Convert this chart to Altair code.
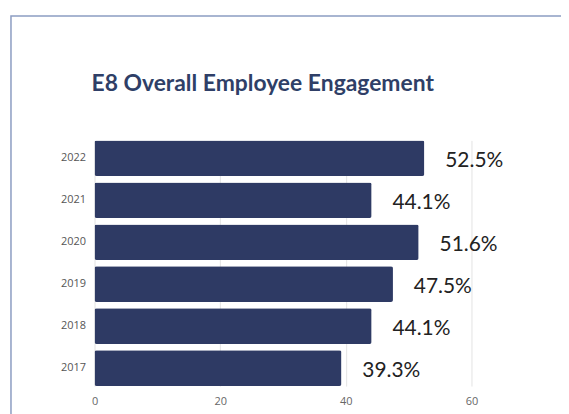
import altair as alt
import pandas as pd

years = ["2022", "2021", "2020", "2019", "2018", "2017"]
values = [52.5, 44.1, 51.6, 47.5, 44.1, 39.3]
labels = ["52.5%", "44.1%", "51.6%", "47.5%", "44.1%", "39.3%"]
title_text = "E8 Overall Employee Engagement"

df = pd.DataFrame({"year": years, "value": values, "label": labels})

y_enc = alt.Y("year:N", sort=years, title=None,
              scale=alt.Scale(paddingInner=0.15, paddingOuter=0),
              axis=alt.Axis(ticks=False, domain=False, labelFontSize=11,
                            labelColor="#555555", labelFont="Open Sans",
                            labelPadding=9))
x_enc = alt.X("value:Q", title=None,
              scale=alt.Scale(domain=[0, 60], nice=False),
              axis=alt.Axis(values=[0, 20, 40, 60], ticks=False, domain=False,
                            labelFontSize=11, labelColor="#666666",
                            labelFont="Open Sans", labelPadding=10,
                            labelFlush=False,
                            grid=True, gridColor="#e3e3e3"))

bars = alt.Chart(df).mark_bar(color="#2e3a64", cornerRadius=2).encode(
    x=x_enc, y=y_enc)

text = alt.Chart(df).mark_text(align="left", baseline="middle", dx=21, dy=3,
                               fontSize=21, font="Lato", color="#222222").encode(
    x="value:Q", y=alt.Y("year:N", sort=years), text="label:N")

border = alt.Chart(alt.Data(values=[{"a": 1}])).mark_rect(
    fill=None, stroke="#8c9dc2", strokeWidth=1.5, clip=False).encode(
    x=alt.value(-84), y=alt.value(-125), x2=alt.value(600), y2=alt.value(500))

title = alt.Chart(alt.Data(values=[{"t": title_text}])).mark_text(
    align="left", baseline="middle", font="Lato", fontSize=23,
    fontWeight="bold", color="#2f3f67").encode(
    x=alt.value(-3), y=alt.value(-57), text="t:N")

chart = alt.layer(border, title, bars, text).properties(
    width=379, height=247,
    autosize=alt.AutoSizeParams(type="none"),
    padding={"left": 87, "top": 132, "right": 90, "bottom": 30},
).configure_view(stroke=None)

chart.save("out.html", embed_options={"renderer": "svg", "actions": False})
